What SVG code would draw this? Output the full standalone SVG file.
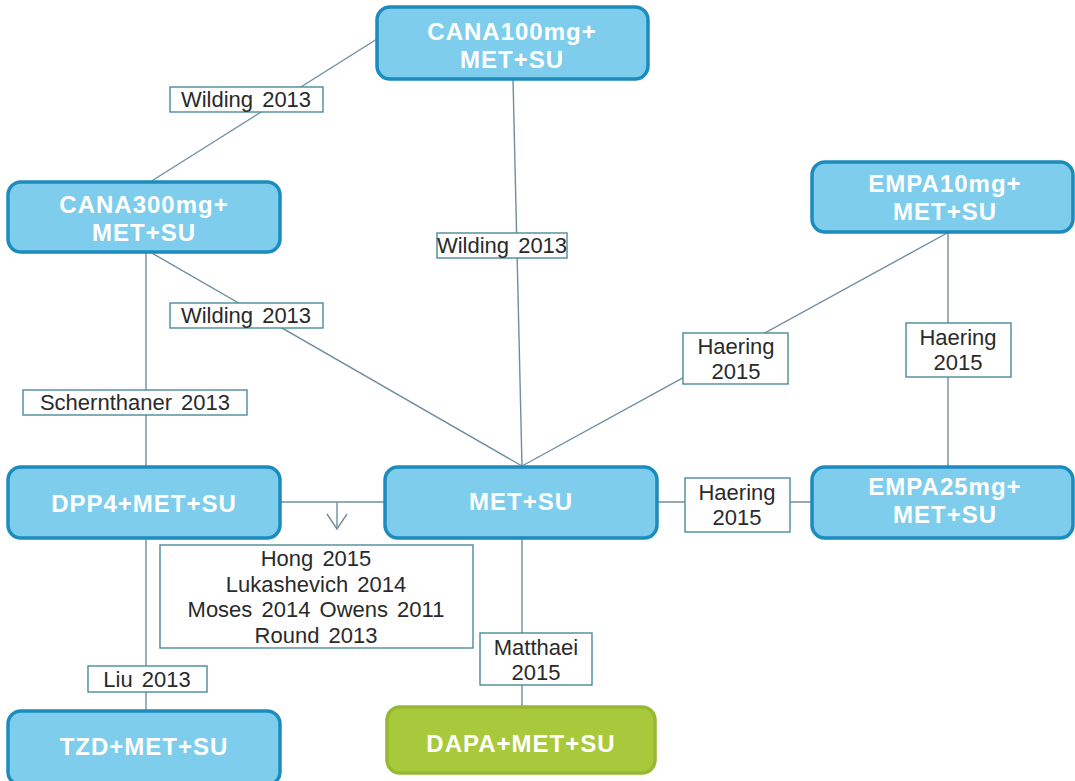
<svg xmlns="http://www.w3.org/2000/svg" width="1075" height="781" viewBox="0 0 1075 781">
  <style>
    .node rect { fill: #7ecdec; stroke: #1c8bbd; stroke-width: 3.5; }
    .node.green rect { fill: #a9c93c; stroke: #97b832; }
    .node text { font-family: "Liberation Sans", Arial, sans-serif; font-weight: bold; font-size: 24px; fill: #ffffff; text-anchor: middle; letter-spacing: 1px; }
    .edge { stroke: #6f8ea0; stroke-width: 1.4; fill: none; }
    .lbl rect { fill: #ffffff; stroke: #4a8a9a; stroke-width: 1.4; }
    .lbl text { font-family: "Liberation Sans", Arial, sans-serif; font-size: 22px; fill: #2a2a2a; text-anchor: middle; word-spacing: 3px; }
  </style>
  <rect width="1075" height="781" fill="#ffffff"/>

  <!-- connectors -->
  <g id="connectors">
    <line class="edge" x1="377" y1="39" x2="150" y2="182"/>
    <line class="edge" x1="513" y1="79" x2="522" y2="466"/>
    <line class="edge" x1="150" y1="252" x2="522" y2="466"/>
    <line class="edge" x1="146" y1="252" x2="146" y2="467"/>
    <line class="edge" x1="949" y1="232" x2="522" y2="466"/>
    <line class="edge" x1="948" y1="232" x2="948" y2="467"/>
    <line class="edge" x1="657" y1="502" x2="812" y2="502"/>
    <line class="edge" x1="280" y1="502" x2="387" y2="502"/>
    <line class="edge" x1="337" y1="502" x2="337" y2="529"/>
    <polyline class="edge" points="327,514 337,529 347,514"/>
    <line class="edge" x1="522" y1="538" x2="522" y2="707"/>
    <line class="edge" x1="146" y1="538" x2="146" y2="711"/>
  </g>

  <!-- study labels -->
  <g id="labels">
    <g class="lbl" id="lbl-wilding-a"><rect x="170" y="87" width="153" height="25"/><text x="246" y="107">Wilding 2013</text></g>
    <g class="lbl" id="lbl-wilding-b"><rect x="437" y="233" width="130" height="25"/><text x="502" y="253">Wilding 2013</text></g>
    <g class="lbl" id="lbl-wilding-c"><rect x="170" y="303" width="153" height="25"/><text x="246" y="323">Wilding 2013</text></g>
    <g class="lbl" id="lbl-schernthaner"><rect x="23" y="390" width="224" height="25"/><text x="135" y="410">Schernthaner 2013</text></g>
    <g class="lbl" id="lbl-haering-a"><rect x="683" y="333" width="105" height="51"/><text x="736" y="354">Haering</text><text x="736" y="379">2015</text></g>
    <g class="lbl" id="lbl-haering-b"><rect x="906" y="323" width="105" height="54"/><text x="958" y="345">Haering</text><text x="958" y="370">2015</text></g>
    <g class="lbl" id="lbl-haering-c"><rect x="685" y="478" width="105" height="54"/><text x="737" y="500">Haering</text><text x="737" y="525">2015</text></g>
    <g class="lbl" id="lbl-dpp4"><rect x="160" y="545" width="313" height="103"/>
      <text x="316" y="566">Hong 2015</text>
      <text x="316" y="592">Lukashevich 2014</text>
      <text x="316" y="617">Moses 2014 Owens 2011</text>
      <text x="316" y="643">Round 2013</text>
    </g>
    <g class="lbl" id="lbl-liu"><rect x="88" y="666" width="119" height="26"/><text x="147" y="687">Liu 2013</text></g>
    <g class="lbl" id="lbl-matthaei"><rect x="480" y="633" width="112" height="52"/><text x="536" y="655">Matthaei</text><text x="536" y="680">2015</text></g>
  </g>

  <!-- treatment nodes -->
  <g class="node" id="n-cana100"><rect x="377" y="7" width="271" height="72" rx="13"/><text x="512" y="40">CANA100mg+</text><text x="512" y="68">MET+SU</text></g>
  <g class="node" id="n-cana300"><rect x="8" y="182" width="272" height="70" rx="13"/><text x="144" y="213">CANA300mg+</text><text x="144" y="241">MET+SU</text></g>
  <g class="node" id="n-empa10"><rect x="812" y="162" width="261" height="70" rx="13"/><text x="945" y="192">EMPA10mg+</text><text x="945" y="220">MET+SU</text></g>
  <g class="node" id="n-empa25"><rect x="812" y="467" width="261" height="71" rx="13"/><text x="945" y="495">EMPA25mg+</text><text x="945" y="523">MET+SU</text></g>
  <g class="node" id="n-dpp4"><rect x="8" y="467" width="272" height="71" rx="13"/><text x="144" y="512">DPP4+MET+SU</text></g>
  <g class="node" id="n-metsu"><rect x="385" y="467" width="272" height="71" rx="13"/><text x="521" y="510">MET+SU</text></g>
  <g class="node" id="n-tzd"><rect x="8" y="711" width="272" height="74" rx="13"/><text x="144" y="755">TZD+MET+SU</text></g>
  <g class="node green" id="n-dapa"><rect x="387" y="707" width="268" height="66" rx="13"/><text x="521" y="752">DAPA+MET+SU</text></g>
</svg>
